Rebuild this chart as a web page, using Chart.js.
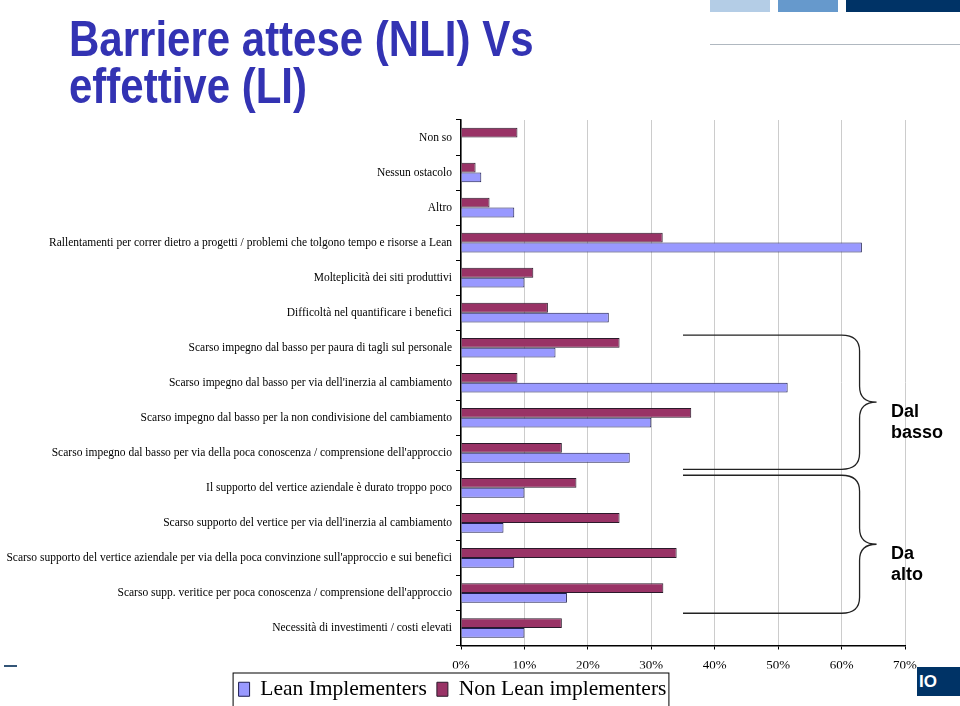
<!DOCTYPE html>
<html>
<head>
<meta charset="utf-8">
<script src="https://cdn.jsdelivr.net/npm/chart.js@4"></script>
<style>
  html, body { margin: 0; padding: 0; background: #fff; }
  #wrap { position: relative; width: 960px; height: 706px; overflow: hidden; }
  #title {
    position: absolute; left: 69px; top: 16px;
    font-family: "Liberation Sans Narrow", "Arial Narrow", "Liberation Sans", Arial, sans-serif;
    font-weight: bold; font-size: 50px; line-height: 47px; color: #3333b3;
    transform: scaleX(0.84); transform-origin: 0 0; white-space: nowrap;
  }
  .deco { position: absolute; }
  #chart { position: absolute; left: 0; top: 0; }
</style>
</head>
<body>
<div id="wrap">
  <canvas id="chart" width="960" height="706"></canvas>
  <div id="title">Barriere attese (NLI) Vs<br>effettive (LI)</div>
  <div class="deco" style="left:710px;top:0;width:60px;height:12px;background:#b4cde6"></div>
  <div class="deco" style="left:778px;top:0;width:60px;height:12px;background:#6699cc"></div>
  <div class="deco" style="left:846px;top:0;width:114px;height:12px;background:#003366"></div>
  <div class="deco" style="left:710px;top:44px;width:250px;height:1px;background:#b0b8c0"></div>
  <div class="deco" style="left:4px;top:665px;width:13px;height:2px;background:#335577"></div>
  <div class="deco" style="left:917px;top:667px;width:43px;height:29px;background:#003366;color:#fff;font:bold 17px 'Liberation Sans',Arial,sans-serif;line-height:29px;text-indent:2px">IO</div>
</div>
<script>
// Dati (percentuali)
const categorie = [
  'Non so',
  'Nessun ostacolo',
  'Altro',
  'Rallentamenti per correr dietro a progetti / problemi che tolgono tempo e risorse a Lean',
  'Molteplicità dei siti produttivi',
  'Difficoltà nel quantificare i benefici',
  'Scarso impegno dal basso per paura di tagli sul personale',
  "Scarso impegno dal basso per via dell'inerzia al cambiamento",
  'Scarso impegno dal basso per la non condivisione del cambiamento',
  "Scarso impegno dal basso per via della poca conoscenza / comprensione dell'approccio",
  'Il supporto del vertice aziendale è durato troppo poco',
  "Scarso supporto del vertice per via dell'inerzia al cambiamento",
  "Scarso supporto del vertice aziendale per via della poca convinzione sull'approccio e sui benefici",
  "Scarso supp. veritice per poca conoscenza / comprensione dell'approccio",
  'Necessità di investimenti / costi elevati'
];
const leanImplementers = [0, 3.2, 8.4, 63.2, 10, 23.3, 14.9, 51.5, 30, 26.6, 10, 6.7, 8.4, 16.7, 10];
const nonLeanImplementers = [8.9, 2.3, 4.5, 31.8, 11.4, 13.7, 25, 8.9, 36.3, 15.9, 18.2, 25, 34, 31.9, 15.9];

// Graffe a destra: prima e ultima categoria coperte
const gruppi = [
  { testo: ['Dal', 'basso'], da: 6, a: 9, topOff: -0.36, botOff: 0.47 },
  { testo: ['Da', 'alto'], da: 10, a: 13, topOff: -0.36, botOff: 0.58 }
];

const serif = "'Liberation Serif', 'Times New Roman', serif";

// Disegna le graffe e il riquadro della legenda
const extrasPlugin = {
  id: 'extras',
  afterDraw(chart) {
    const ctx = chart.ctx;
    const x = chart.scales.x, y = chart.scales.y;
    ctx.save();
    ctx.strokeStyle = '#222';
    ctx.lineWidth = 1.3;
    gruppi.forEach(g => {
      const top = y.getPixelForValue(g.da + g.topOff);
      const bot = y.getPixelForValue(g.a + g.botOff);
      const x0 = x.getPixelForValue(35);
      const x1 = x.getPixelForValue(60);
      const mid = (top + bot) / 2;
      const xb = x1 + 18, xp = x1 + 35, r = 16;
      ctx.beginPath();
      ctx.moveTo(x0, top); ctx.lineTo(x1, top);
      ctx.quadraticCurveTo(xb, top, xb, top + r);
      ctx.lineTo(xb, mid - r);
      ctx.quadraticCurveTo(xb, mid, xp, mid);
      ctx.quadraticCurveTo(xb, mid, xb, mid + r);
      ctx.lineTo(xb, bot - r);
      ctx.quadraticCurveTo(xb, bot, x1, bot);
      ctx.lineTo(x0, bot);
      ctx.stroke();
      ctx.fillStyle = '#000';
      ctx.font = "bold 18px 'Liberation Sans', Arial, sans-serif";
      ctx.textBaseline = 'alphabetic';
      ctx.fillText(g.testo[0], 891, mid + 15);
      ctx.fillText(g.testo[1], 891, mid + 36);
    });
    // cornice della legenda
    const boxes = chart.legend.legendHitBoxes;
    if (boxes && boxes.length) {
      const l = Math.min(...boxes.map(b => b.left)) - 6;
      const r = Math.max(...boxes.map(b => b.left + b.width)) + 2;
      const t = Math.min(...boxes.map(b => b.top)) - 6;
      ctx.lineWidth = 1;
      ctx.strokeStyle = '#000';
      ctx.strokeRect(l + 0.5, t + 0.5, r - l, 50);
    }
    ctx.restore();
  }
};

new Chart(document.getElementById('chart'), {
  type: 'bar',
  data: {
    labels: categorie,
    datasets: [
      {
        label: 'Non Lean implementers',
        data: nonLeanImplementers,
        backgroundColor: '#993366',
        borderColor: '#2a1a2a',
        borderWidth: 1,
        borderSkipped: 'start',
        categoryPercentage: 0.56,
        barPercentage: 1
      },
      {
        label: 'Lean Implementers',
        data: leanImplementers,
        backgroundColor: '#9999ff',
        borderColor: '#1e1e50',
        borderWidth: 1,
        borderSkipped: 'start',
        categoryPercentage: 0.56,
        barPercentage: 1
      }
    ]
  },
  options: {
    indexAxis: 'y',
    responsive: false,
    animation: false,
    layout: { padding: { left: 0, right: 55, top: 120, bottom: -4 } },
    plugins: {
      title: { display: false },
      tooltip: { enabled: false },
      legend: {
        position: 'bottom',
        reverse: true,
        labels: {
          color: '#000',
          font: { family: serif, size: 21.5 },
          boxWidth: 11,
          boxHeight: 14,
          padding: 10,
          useBorderRadius: false
        }
      }
    },
    scales: {
      x: {
        min: 0,
        max: 70,
        ticks: {
          stepSize: 10,
          color: '#000',
          padding: 8,
          font: { family: serif, size: 13 },
          callback: v => v + '%'
        },
        grid: { color: '#cccccc', tickColor: '#000', tickLength: 4, drawTicks: true },
        border: { color: '#000', width: 1.5 },
        afterFit: s => { s.height = 23; }
      },
      y: {
        ticks: {
          color: '#000',
          padding: 4,
          font: { family: serif, size: 11.5 },
          autoSkip: false
        },
        grid: { drawOnChartArea: false, offset: true, tickColor: '#000', tickLength: 5 },
        border: { color: '#000', width: 1.5 },
        afterFit: s => { s.width = 461; }
      }
    }
  },
  plugins: [extrasPlugin]
});
</script>
</body>
</html>
